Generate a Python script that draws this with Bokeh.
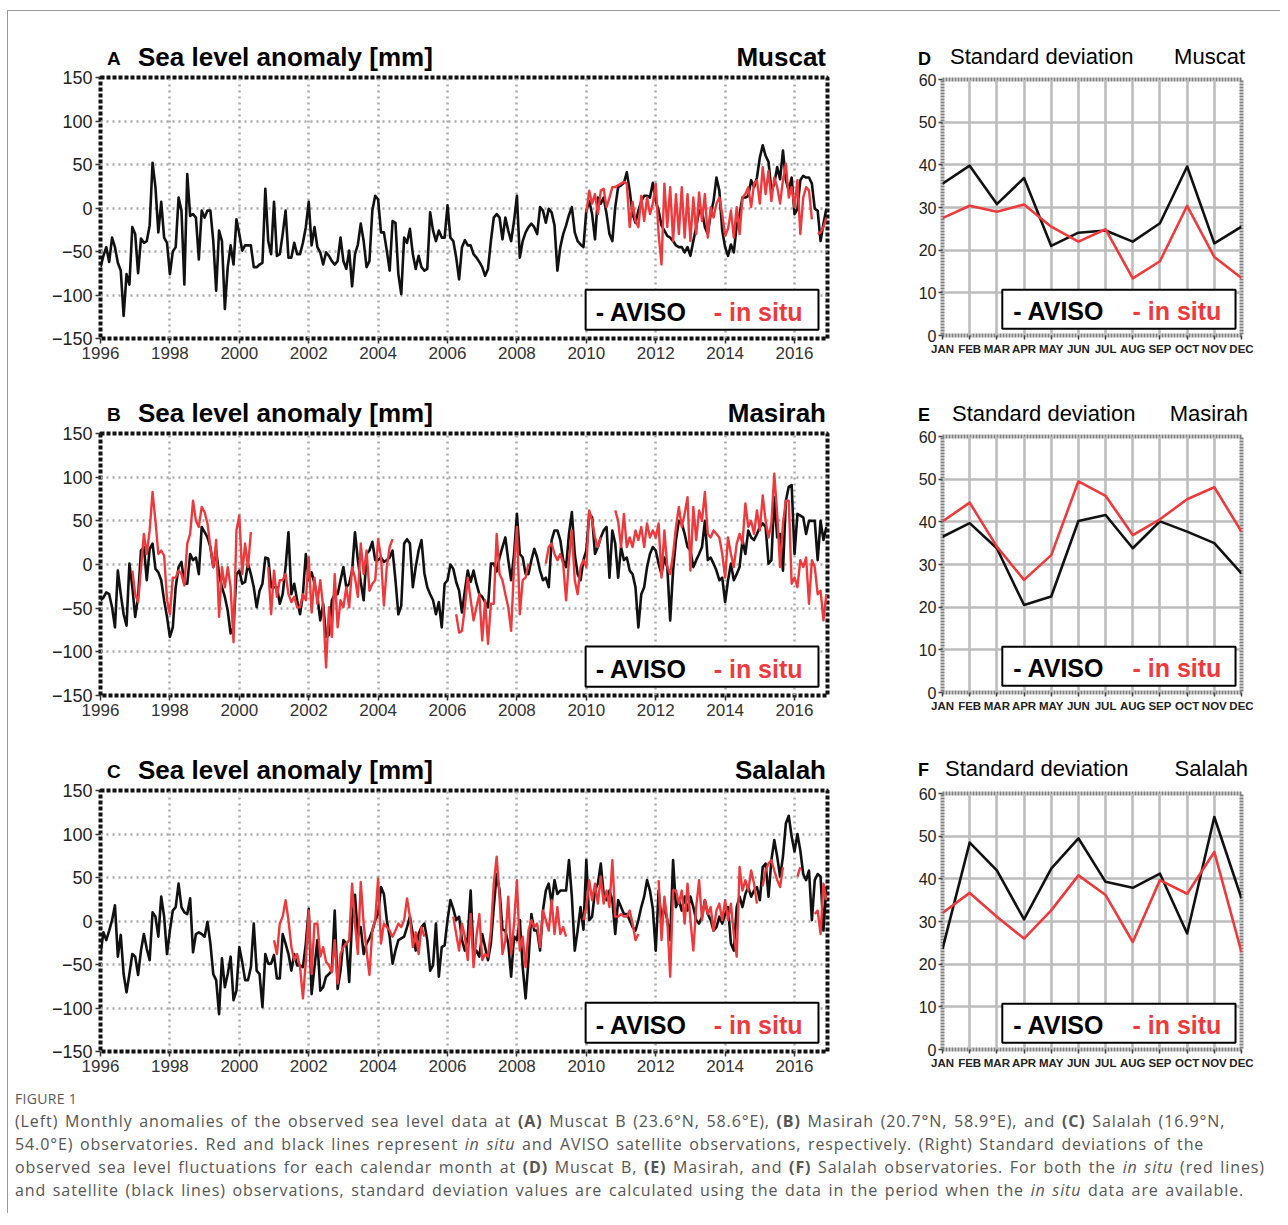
import numpy as np
from bokeh.plotting import figure
from bokeh.models import Range1d, FixedTicker, BoxAnnotation, Label, Div, ColumnDataSource
from bokeh.layouts import row, column
from bokeh.embed import file_html
from bokeh.resources import INLINE

NA = None

# ---------------- data ----------------
start_year = 1996
year_ticks = list(range(1996, 2017, 2))
sla_ticks = [-150, -100, -50, 0, 50, 100, 150]
sd_ticks = [0, 10, 20, 30, 40, 50, 60]
month_labels = ["JAN", "FEB", "MAR", "APR", "MAY", "JUN", "JUL", "AUG", "SEP", "OCT", "NOV", "DEC"]

muscat_aviso = [
    -68, -55, -45, -62, -34, -45, -63, -72, -124, -76, -88, -22,
    -30, -75, -35, -40, -38, -20, 52, 24, -28, 7, -34, -40,
    -76, -50, -45, 12, -3, -88, 39, -9, -7, -11, -59, -3,
    -11, -3, -3, -38, -95, -26, -38, -116, -68, -43, -65, -13,
    -30, -49, -43, -43, -43, -68, -68, -65, -63, 22, -38, -53,
    7, -55, -53, -30, -3, -57, -57, -40, -53, -53, -40, -22,
    7, -43, -22, -45, -51, -65, -51, -55, -61, -65, -61, -34,
    -61, -70, -49, -90, -53, -42, -18, -38, -68, -61, -3, 14,
    10, -28, -28, -49, -72, -15, -17, -76, -99, -34, -40, -24,
    -53, -70, -55, -68, -72, -70, -5, -26, -38, -26, -34, -34,
    3, -34, -38, -57, -82, -45, -37, -43, -43, -53, -57, -62,
    -68, -78, -70, -38, -11, -7, -11, -36, -11, -26, -38, -15,
    14, -57, -38, -28, -22, -18, -22, -30, 1, -3, -17, -1,
    -5, -20, -72, -45, -30, -20, -8, 1, -28, -38, -42, -45,
    -3, 8, -7, -36, 12, 5, 12, -7, -30, -38, 1, 24,
    26, 29, 41, 20, -7, -17, -3, 8, 14, 14, 12, 29,
    8, -3, -20, -26, -32, -34, -38, -43, -45, -45, -51, -45,
    -55, -38, -22, -3, -3, -22, -30, -7, 8, 35, 20, -26,
    -45, -55, -42, -51, -20, -7, 12, 12, 14, 32, 24, 35,
    58, 72, 60, 53, 20, 28, 47, 33, 66, 32, 20, 35,
    -7, -1, 32, 37, 35, 35, 28, -1, -3, -38, -18, -1,
]
muscat_insitu = [NA] * 168 + [
    -5, 20, 5, 16, -7, 20, 22, 1, 12, 24, 24, 26,
    28, 30, 28, -22, 7, -15, -22, 14, -15, 12, -7, 5,
    28, -30, -65, 28, -22, 24, -38, 16, -30, 24, -34, 16,
    -38, 12, -30, 18, -15, 16, -34, 1, -11, 5, 12, -7,
    -32, -24, -3, -34, 1, -30, 12, 16, 24, 1, 28, 32,
    5, 47, 16, 43, 8, 35, 24, 5, 32, 51, 12, 24,
    1, 32, -30, 12, 24, 20, -13, NA, -30, -28, -22, -11,
]

masirah_aviso = [
    -41, -38, -32, -34, -49, -72, -7, -34, -57, -70, 1, -26,
    -60, -37, 16, 20, -18, 18, 24, -5, -9, -18, -41, -60,
    -83, -72, -26, -3, 3, -22, -22, 12, 5, 8, -11, 43,
    37, 31, 20, -3, 16, -11, -26, -37, -53, -79, -72, -11,
    -7, -22, -20, 1, -11, -26, -49, -30, -22, 8, 7, -26,
    -26, -26, -45, -34, -3, 37, -34, -22, -41, -57, -34, 12,
    -18, -9, -22, -37, -64, -45, -83, -81, -41, -34, -34, -18,
    -3, -26, -22, -7, 37, 5, -20, -41, 12, 16, 26, 5,
    5, 8, 3, 5, 8, 16, -18, -57, -47, 24, 29, 24,
    -26, -3, 16, 28, -10, -26, -34, -41, -57, -43, -72, -22,
    -18, 0, -5, -20, -30, -55, -30, -7, -20, -7, -22, -34,
    -37, -43, -49, 1, 1, -8, 8, 20, 31, 5, -18, 12,
    58, 12, 8, -11, -11, 5, 18, 8, -7, -18, -15, -26,
    28, 39, 39, 28, 5, -3, 35, 60, 12, -11, -18, 5,
    16, 58, 54, 12, 20, 31, 39, 43, -15, 39, 24, -15,
    20, 5, 8, -7, -11, -26, -72, -34, -26, -3, 12, 20,
    16, 1, -11, 8, -3, -64, -7, 28, 50, 47, 35, 20,
    16, -3, 5, 12, 20, 50, 5, 8, 1, -7, -18, -15,
    -43, -18, 1, -18, -11, -3, 28, 12, 39, 31, 28, 35,
    43, 47, 43, 1, 5, 77, 31, 35, -7, 73, 89, 91,
    12, 58, 56, 54, 35, 50, 50, 50, 5, 50, 28, 43,
]
masirah_insitu = [
    NA, NA, NA, NA, NA, NA, NA, NA, NA, NA, NA, -7,
    -34, -43, -5, 35, 12, 39, 83, 50, 12, 16, 10, -40,
    -57, -15, -15, -7, -11, -24, 24, 35, 73, 50, 43, 66,
    60, 47, 20, -3, 28, -60, -3, -26, -3, -26, -89, 39,
    56, -11, 24, -3, 37, NA, NA, NA, NA, NA, -3, -57,
    -7, -37, -18, -18, -11, -34, -43, -37, -49, -49, -34, -41,
    8, -55, -15, -45, -18, -49, -118, -49, -83, -11, -72, -41,
    -49, -26, -49, -3, -15, -37, 24, -11, 16, -30, -22, -18,
    29, 8, -47, -3, 20, 29, NA, NA, NA, NA, NA, NA,
    NA, NA, NA, NA, NA, NA, NA, NA, NA, NA, NA, NA,
    NA, NA, NA, -57, -78, -76, -49, -15, -40, -64, -49, -34,
    -87, -41, -91, -45, -45, 35, -11, -18, -34, -49, -76, -3,
    43, -57, -18, -15, 1, NA, NA, NA, NA, NA, 1, 20,
    24, 12, 5, 12, 1, -41, 5, 39, -18, -34, -3, 5,
    -3, 62, 50, 31, 20, 31, NA, NA, NA, NA, 62, 50,
    20, 58, 20, 31, 20, 39, 28, 43, 20, 47, 31, 39,
    31, 47, -15, 39, -3, -11, 12, 43, 66, 43, 58, 77,
    -7, 66, 28, 62, 50, 83, 35, 31, 39, 35, 31, 12,
    -15, 31, 12, -3, 24, 35, 24, 70, 43, 50, 35, 62,
    39, 79, 50, 31, 47, 104, 58, -3, 47, 73, 73, -22,
    -15, -26, 5, -3, 8, -45, 5, -3, -34, -30, -64, -34,
]

salalah_aviso = [
    -38, -13, -22, -11, 1, 18, -41, -16, -61, -82, -61, -38,
    -41, -62, -34, -15, -32, -45, 10, 5, -18, 28, 5, -38,
    -11, 12, 16, 43, 16, 10, 8, 26, -36, -15, -13, -15,
    -18, -1, -26, -61, -68, -107, -43, -76, -61, -41, -91, -80,
    -30, -47, -68, -68, -53, -3, -57, -61, -99, -38, -49, -49,
    -39, -66, -66, -15, -26, -38, -57, -38, -51, -51, -53, -26,
    14, -84, -53, -22, -80, -76, -64, -61, -57, 12, -78, -57,
    -22, -26, -70, 1, 30, -18, -7, -38, -26, -20, -11, 1,
    8, 39, 31, 1, -18, -49, -34, -22, -20, -18, -7, 5,
    -15, -34, -15, -7, -3, -22, -57, -51, -3, -64, -30, -28,
    1, 24, 14, 1, 5, -22, -34, -18, 35, -40, -34, -41,
    -15, -30, -45, -26, 16, 54, 35, -10, -11, -26, -64, -18,
    -22, 1, -53, -89, -45, 8, -11, -11, -34, 12, 35, 43,
    20, 47, 31, 35, 35, 35, 70, 28, -34, -11, 16, -10,
    70, 1, 5, 35, 43, 66, 31, 24, 35, 24, -15, 24,
    16, 8, 8, 1, -7, -11, 1, 16, 28, 47, 35, 14,
    -34, 35, 1, 16, 1, -22, 70, 16, 24, 12, 28, 12,
    28, 16, 1, -3, 5, 24, 8, 1, -11, -7, 5, -3,
    8, 16, -26, -34, 16, 28, 16, 31, 39, 28, 35, 39,
    24, 62, 66, 28, 70, 93, 74, 51, 74, 112, 121, 97,
    80, 100, 81, 54, 47, 58, 1, 47, 54, 51, -11, 39,
]
salalah_insitu = [NA] * 60 + [
    -22, -38, -3, 5, 24, 1, -30, -45, -38, -53, -89, -47,
    12, -61, -3, -3, -41, -30, -47, -51, -59, -22, -72, -38,
    -30, -26, -22, 43, -3, -38, 45, -3, -34, -62, -11, 1,
    49, -26, -3, -7, -11, -18, -11, -3, -7, 1, 26, 5,
    -30, -13, -38, -7, -18, NA, NA, NA, NA, NA, NA, NA,
    NA, NA, 5, -15, -34, -3, -18, -45, 8, -53, -18, 8,
    -45, -38, -41, -11, 43, 74, 28, -38, -22, 28, -38, -3,
    47, -34, -18, -53, -11, 1, -7, -3, -30, 12, 1, -11,
    24, -15, 16, -15, -7, -18, NA, NA, NA, NA, NA, 1,
    16, 47, 24, 43, 20, 51, 20, 35, 16, 70, 5, 5,
    8, 5, 5, 12, -3, -22, -15, NA, NA, NA, NA, NA,
    NA, 47, -22, 28, 1, -64, 35, 35, 20, 35, -3, 43,
    1, -34, 16, 47, 1, 24, 8, 16, -11, 12, 20, 1,
    24, 1, 20, -15, -41, 62, 35, 47, 35, 58, 43, 20,
    NA, 40, 58, 66, 70, 58, 47, 39, 62, NA, NA, NA,
    NA, 51, 62, NA, NA, NA, NA, 8, 12, -15, 43, 24,
]

muscat_sd_aviso = [35.6, 39.8, 30.8, 36.9, 21.0, 24.1, 24.6, 22.0, 26.3, 39.6, 21.6, 25.5]
muscat_sd_insitu = [27.5, 30.4, 29.0, 30.7, 25.5, 22.0, 24.9, 13.4, 17.4, 30.4, 18.4, 13.5]
masirah_sd_aviso = [36.5, 39.7, 33.8, 20.5, 22.5, 40.2, 41.6, 33.8, 40.1, 37.7, 35.0, 27.9]
masirah_sd_insitu = [40.1, 44.5, 34.2, 26.4, 32.2, 49.5, 46.1, 36.9, 40.6, 45.3, 48.1, 37.7]
salalah_sd_aviso = [23.6, 48.5, 42.0, 30.5, 42.4, 49.5, 39.3, 37.9, 41.2, 27.2, 54.5, 35.4]
salalah_sd_insitu = [32.0, 36.7, 31.1, 26.0, 32.6, 40.8, 36.2, 25.2, 39.7, 36.5, 46.3, 22.8]

# ---------------- style ----------------
BLACK = "#111111"
RED = "#ee3a3d"
SANS = "Liberation Sans"
CSS_SANS = "'Liberation Sans',Arial,sans-serif"


def to_arr(vals):
    return np.array([np.nan if v is None else v for v in vals], dtype=float)


def span(txt, top, size, bold=True, left=None, right=None):
    pos = f"left:{left}px;" if left is not None else f"right:{right}px;"
    weight = "bold" if bold else "normal"
    return (f'<span style="position:absolute;{pos}top:{top}px;font-family:{CSS_SANS};'
            f'font-weight:{weight};font-size:{size}px;line-height:{size}px;color:#000;'
            f'white-space:nowrap;">{txt}</span>')


def title_div(width, height, spans):
    html = (f'<div style="position:relative;width:{width}px;height:{height}px;margin:0;padding:0;'
            f'overflow:visible;">' + "".join(spans) + "</div>")
    return Div(text=html, width=width, height=height, margin=0, styles={"overflow": "visible"})


def ts_panel(aviso, insitu, height, top, bottom):
    p = figure(width=872, height=height, title=None,
               x_range=Range1d(1996, 2016.95), y_range=Range1d(-150, 150),
               output_backend="svg", toolbar_location=None,
               min_border_left=92, min_border_right=53,
               min_border_top=top, min_border_bottom=bottom)
    p.background_fill_color = "white"
    p.border_fill_color = None
    p.outline_line_color = "#111111"
    p.outline_line_width = 4
    p.outline_line_dash = "4 2"
    for g in (p.xgrid, p.ygrid):
        g.grid_line_color = "#a9a9a9"
        g.grid_line_width = 2.5
        g.grid_line_dash = "2 4"
    p.xaxis.ticker = FixedTicker(ticks=year_ticks)
    p.yaxis.ticker = FixedTicker(ticks=sla_ticks)
    p.yaxis.major_label_overrides = {t: (("\u2212" + str(-t)) if t < 0 else str(t)) for t in sla_ticks}
    for ax in (p.xaxis[0], p.yaxis[0]):
        ax.axis_line_color = None
        ax.minor_tick_line_color = None
        ax.major_tick_line_color = "#333333"
        ax.major_tick_line_width = 1.5
        ax.major_tick_in = 0
        ax.major_tick_out = 5
        ax.major_label_text_font = SANS
        ax.major_label_text_font_size = "17px"
        ax.major_label_text_color = "#333333"
    p.xaxis.major_label_standoff = 3
    p.yaxis.major_label_standoff = 3
    p.yaxis.major_label_text_font_size = "18px"
    p.yaxis.major_label_text_color = "#222222"

    n = len(aviso)
    x = start_year + np.arange(n) / 12.0
    src = ColumnDataSource(dict(x=x, a=to_arr(aviso), s=to_arr(insitu)))
    p.line("x", "a", source=src, line_color=BLACK, line_width=2.6, line_join="round")
    p.line("x", "s", source=src, line_color=RED, line_width=2.4, line_join="round")

    p.add_layout(BoxAnnotation(left=2009.98, right=2016.69, bottom=-140, top=-94,
                               fill_color="white", fill_alpha=1.0, line_color="black",
                               line_alpha=1.0, line_width=2, level="overlay"))
    p.add_layout(Label(x=2010.27, y=-120, text="- AVISO", text_font=SANS, text_font_size="25px",
                       text_font_style="bold", text_baseline="middle", text_color="black",
                       level="overlay"))
    p.add_layout(Label(x=2013.67, y=-120, text="- in situ", text_font=SANS, text_font_size="25px",
                       text_font_style="bold", text_baseline="middle", text_color=RED,
                       level="overlay"))
    return p


def sd_panel(aviso, insitu, height, top, bottom):
    p = figure(width=400, height=height, title=None,
               x_range=Range1d(1, 12), y_range=Range1d(0, 60),
               output_backend="svg", toolbar_location=None,
               min_border_left=62, min_border_right=39,
               min_border_top=top, min_border_bottom=bottom)
    p.border_fill_color = None
    p.outline_line_color = "#808080"
    p.outline_line_width = 4
    p.outline_line_dash = "2 1"
    for g in (p.xgrid, p.ygrid):
        g.grid_line_color = "#bdbdbd"
        g.grid_line_width = 2.6
    months = list(range(1, 13))
    p.xaxis.ticker = FixedTicker(ticks=months)
    p.xaxis.major_label_overrides = {m: lab for m, lab in zip(months, month_labels)}
    p.yaxis.ticker = FixedTicker(ticks=sd_ticks)
    for ax in (p.xaxis[0], p.yaxis[0]):
        ax.axis_line_color = None
        ax.minor_tick_line_color = None
        ax.major_tick_line_color = "#444444"
        ax.major_tick_line_width = 1.5
        ax.major_tick_in = 0
        ax.major_tick_out = 4
        ax.major_label_text_color = "#222222"
        ax.major_label_text_font = SANS
    p.xaxis.major_label_text_font_size = "11.5px"
    p.xaxis.major_label_text_font_style = "bold"
    p.xaxis.major_label_standoff = 3
    p.yaxis.major_label_text_font_size = "16px"
    p.yaxis.major_label_standoff = 2

    src = ColumnDataSource(dict(m=months, a=aviso, s=insitu))
    p.line("m", "a", source=src, line_color=BLACK, line_width=2.6, line_join="round")
    p.line("m", "s", source=src, line_color=RED, line_width=2.6, line_join="round")

    p.add_layout(BoxAnnotation(left=3.2, right=11.78, bottom=1.6, top=10.7,
                               fill_color="white", fill_alpha=1.0, line_color="black",
                               line_alpha=1.0, line_width=2, level="overlay"))
    p.add_layout(Label(x=3.6, y=5.7, text="- AVISO", text_font=SANS, text_font_size="25px",
                       text_font_style="bold", text_baseline="middle", text_color="black",
                       level="overlay"))
    p.add_layout(Label(x=7.99, y=5.7, text="- in situ", text_font=SANS, text_font_size="25px",
                       text_font_style="bold", text_baseline="middle", text_color=RED,
                       level="overlay"))
    return p


def left_title(letter, station, height, top_big, top_small):
    return title_div(872, height, [
        span(letter, top_small, 19, left=99),
        span("Sea level anomaly [mm]", top_big, 26, left=130),
        span(station, top_big, 26, right=54),
    ])


def right_title(letter, station, height, top_big, top_small, left_text, right_px):
    return title_div(400, height, [
        span(letter, top_small, 18, left=38),
        span("Standard deviation", top_big, 22, bold=False, left=left_text),
        span(station, top_big, 22, bold=False, right=right_px),
    ])


tA = left_title("A", "Muscat", 54, 33, 38)
pA = ts_panel(muscat_aviso, muscat_insitu, 320, 12, 47)
tB = left_title("B", "Masirah", 36, 15, 20)
pB = ts_panel(masirah_aviso, masirah_insitu, 321, 12, 47)
tC = left_title("C", "Salalah", 36, 15, 20)
pC = ts_panel(salalah_aviso, salalah_insitu, 307, 12, 34)

tD = right_title("D", "Muscat", 54, 35, 39, 70, 35)
pD = sd_panel(muscat_sd_aviso, muscat_sd_insitu, 320, 14, 50)
tE = right_title("E", "Masirah", 36, 18, 21, 72, 32)
pE = sd_panel(masirah_sd_aviso, masirah_sd_insitu, 321, 15, 50)
tF = right_title("F", "Salalah", 36, 16, 19, 65, 32)
pF = sd_panel(salalah_sd_aviso, salalah_sd_insitu, 307, 15, 36)

caption_html = (
    '<div style="font-family:\'Open Sans\',sans-serif;color:#555;padding-left:7px;">'
    '<div style="font-size:14px;color:#5a5a5a;line-height:18px;margin-top:5px;letter-spacing:0.3px;">FIGURE 1</div>'
    '<div style="font-size:16px;line-height:23px;margin-top:2px;white-space:nowrap;'
    'letter-spacing:0.9px;word-spacing:1.6px;">'
    '(Left) Monthly anomalies of the observed sea level data at <b>(A)</b> Muscat B (23.6°N, 58.6°E), '
    '<b>(B)</b> Masirah (20.7°N, 58.9°E), and <b>(C)</b> Salalah (16.9°N,<br>'
    '54.0°E) observatories. Red and black lines represent <i>in situ</i> and AVISO satellite '
    'observations, respectively. (Right) Standard deviations of the<br>'
    'observed sea level fluctuations for each calendar month at <b>(D)</b> Muscat B, <b>(E)</b> Masirah, '
    'and <b>(F)</b> Salalah observatories. For both the <i>in situ</i> (red lines)<br>'
    'and satellite (black lines) observations, standard deviation values are calculated using the data '
    'in the period when the <i>in situ</i> data are available.'
    '</div></div>'
)
caption = Div(text=caption_html, width=1272, height=128, margin=0)

left_col = column(tA, pA, tB, pB, tC, pC)
right_col = column(tD, pD, tE, pE, tF, pF)
layout = column(row(left_col, right_col), caption,
                styles={"margin-left": "7px", "margin-top": "10px",
                        "border-top": "1px solid #999", "border-left": "1px solid #999"})

open("out.html", "w").write(file_html(layout, INLINE))
